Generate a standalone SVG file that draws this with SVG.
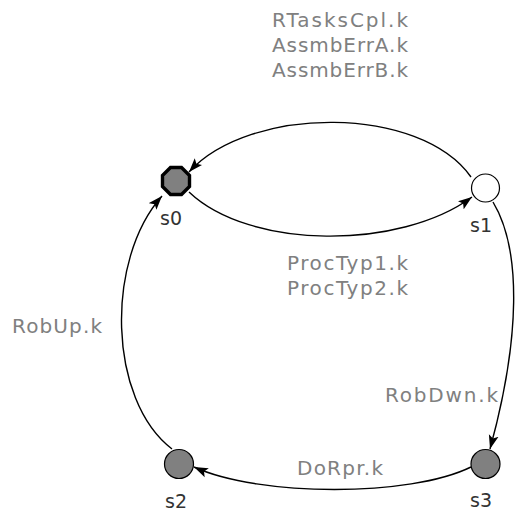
<svg xmlns="http://www.w3.org/2000/svg" width="515" height="512" viewBox="0 0 515 512">
  <style>
    .edge { fill: none; stroke: #000; stroke-width: 1.4; marker-end: url(#arrow); }
    .elabel { font-family: "DejaVu Sans", sans-serif; font-size: 20px; fill: #808080; }
    .nlabel { font-family: "DejaVu Sans", sans-serif; font-size: 19px; fill: #333; }
    .state { fill: #808080; stroke: #000; stroke-width: 1.2; }
  </style>
  <defs>
    <marker id="arrow" markerUnits="userSpaceOnUse" markerWidth="15" markerHeight="11" refX="14" refY="5.5" orient="auto">
      <path d="M0,0.5 L14,5.5 L0,10.5 L3,5.5 z" fill="#000"/>
    </marker>
  </defs>
  <rect width="515" height="512" fill="#fff"/>

  <g id="connectors">
    <!-- s1 to s0 (upper arc) -->
    <path class="edge" d="M471,177 C420,105 250,105 189,172"/>
    <!-- s0 to s1 (lower arc) -->
    <path class="edge" d="M189,192 C250,250 400,250 472,197"/>
    <!-- s1 to s3 -->
    <path class="edge" d="M493,202 C522,250 520,340 490,449"/>
    <!-- s3 to s2 -->
    <path class="edge" d="M471,467 C410,497 260,497 194,467"/>
    <!-- s2 to s0 -->
    <path class="edge" d="M172,449 C108,400 105,260 162,196"/>
  </g>

  <g id="edge-labels">
    <text class="elabel" x="272" y="27" textLength="136" lengthAdjust="spacing">RTasksCpl.k</text>
    <text class="elabel" x="272" y="52" textLength="136" lengthAdjust="spacing">AssmbErrA.k</text>
    <text class="elabel" x="272" y="77" textLength="136" lengthAdjust="spacing">AssmbErrB.k</text>
    <text class="elabel" x="287" y="270" textLength="121" lengthAdjust="spacing">ProcTyp1.k</text>
    <text class="elabel" x="287" y="295" textLength="121" lengthAdjust="spacing">ProcTyp2.k</text>
    <text class="elabel" x="12" y="333" textLength="90" lengthAdjust="spacing">RobUp.k</text>
    <text class="elabel" x="385" y="402" textLength="113" lengthAdjust="spacing">RobDwn.k</text>
    <text class="elabel" x="297" y="475" textLength="86" lengthAdjust="spacing">DoRpr.k</text>
  </g>

  <g id="s0">
    <polygon class="state" style="stroke-width:3.4" points="170.5,167.5 181.5,167.5 189.5,175.5 189.5,186.5 181.5,194.5 170.5,194.5 162.5,186.5 162.5,175.5"/>
    <text class="nlabel" x="160" y="225">s0</text>
  </g>
  <g id="s1">
    <circle cx="485.5" cy="188" r="14" fill="#fff" stroke="#000" stroke-width="1.2"/>
    <text class="nlabel" x="470" y="232">s1</text>
  </g>
  <g id="s2">
    <circle class="state" cx="179" cy="464" r="14.5"/>
    <text class="nlabel" x="165" y="508">s2</text>
  </g>
  <g id="s3">
    <circle class="state" cx="485.5" cy="464" r="14.5"/>
    <text class="nlabel" x="470" y="507">s3</text>
  </g>
</svg>
